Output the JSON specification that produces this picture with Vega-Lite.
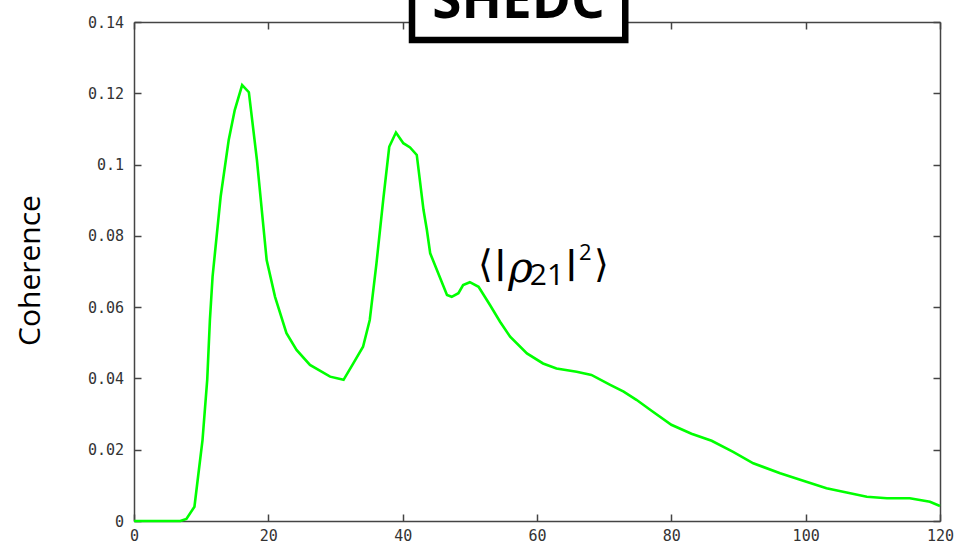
{
  "$schema": "https://vega.github.io/schema/vega-lite/v6.json",
  "width": 806,
  "height": 499,
  "autosize": {"type": "none"},
  "padding": {"left": 134, "top": 22, "right": 21, "bottom": 27},
  "background": "white",
  "config": {
    "view": {"stroke": null},
    "axis": {
      "domainColor": "#444444",
      "domainWidth": 1.5,
      "tickColor": "#444444",
      "tickWidth": 1.5,
      "tickSize": -7,
      "grid": false,
      "labelFont": "DejaVu Sans Mono",
      "labelFontSize": 15,
      "labelColor": "#333333"
    }
  },
  "datasets": {
    "curve": [
      {"x": 0, "y": 0}, {"x": 2, "y": 0}, {"x": 4, "y": 0}, {"x": 6, "y": 0}, {"x": 6.9, "y": 0},
      {"x": 7.8, "y": 0.0006}, {"x": 9.0, "y": 0.004}, {"x": 9.6, "y": 0.0134}, {"x": 10.2, "y": 0.0227},
      {"x": 10.9, "y": 0.0396}, {"x": 11.3, "y": 0.0564}, {"x": 11.7, "y": 0.0686}, {"x": 12.9, "y": 0.091},
      {"x": 14.1, "y": 0.1069}, {"x": 15.0, "y": 0.1153}, {"x": 16.1, "y": 0.1223}, {"x": 17.1, "y": 0.1203},
      {"x": 18.3, "y": 0.1013}, {"x": 19.75, "y": 0.0732}, {"x": 21.0, "y": 0.0629}, {"x": 22.7, "y": 0.0527},
      {"x": 24.2, "y": 0.048}, {"x": 26.2, "y": 0.0438}, {"x": 29.2, "y": 0.0405}, {"x": 31.2, "y": 0.0396},
      {"x": 32.65, "y": 0.0442}, {"x": 34.1, "y": 0.0489}, {"x": 35.1, "y": 0.0564}, {"x": 36.1, "y": 0.0723},
      {"x": 37.1, "y": 0.09}, {"x": 38.0, "y": 0.105}, {"x": 39.0, "y": 0.109}, {"x": 40.1, "y": 0.106},
      {"x": 41.1, "y": 0.1048}, {"x": 42.1, "y": 0.1027}, {"x": 43.1, "y": 0.0873}, {"x": 43.6, "y": 0.0817},
      {"x": 44.1, "y": 0.0751}, {"x": 45.1, "y": 0.0704}, {"x": 46.6, "y": 0.0634}, {"x": 47.3, "y": 0.0629},
      {"x": 48.3, "y": 0.0639}, {"x": 49.0, "y": 0.0662}, {"x": 50.0, "y": 0.067}, {"x": 51.3, "y": 0.0657},
      {"x": 53.0, "y": 0.0606}, {"x": 54.5, "y": 0.0559}, {"x": 56.0, "y": 0.0517}, {"x": 58.5, "y": 0.047},
      {"x": 60.9, "y": 0.0442}, {"x": 62.9, "y": 0.0428}, {"x": 65.9, "y": 0.0419}, {"x": 68.1, "y": 0.041},
      {"x": 70.9, "y": 0.0382}, {"x": 72.9, "y": 0.0363}, {"x": 74.8, "y": 0.034}, {"x": 77, "y": 0.031},
      {"x": 80, "y": 0.027}, {"x": 83, "y": 0.0245}, {"x": 86, "y": 0.0225}, {"x": 89.2, "y": 0.0194},
      {"x": 92.2, "y": 0.0162}, {"x": 96.2, "y": 0.0134}, {"x": 100.1, "y": 0.011}, {"x": 103.1, "y": 0.0092},
      {"x": 106.1, "y": 0.008}, {"x": 109.1, "y": 0.0068}, {"x": 112.1, "y": 0.0064}, {"x": 115.5, "y": 0.0064},
      {"x": 118.5, "y": 0.0054}, {"x": 120, "y": 0.0042}
    ],
    "box": [{"x1": 41.39, "x2": 73.14, "y1": 0.13496, "y2": 0.16}],
    "title": [{"x": 57.25, "y": 0.14105, "t": "SHEDC"}],
    "brackets": [
      {"x": 52.3, "y": 0.06846, "t": "⟨"},
      {"x": 69.6, "y": 0.06846, "t": "⟩"}
    ],
    "bars": [
      {"x": 54.56, "y": 0.06958, "t": "|"},
      {"x": 65.1, "y": 0.06958, "t": "|"}
    ],
    "rho": [{"x": 57.54, "y": 0.06706, "t": "ρ"}],
    "sub": [{"x": 61.49, "y": 0.06622, "t": "21"}],
    "sup": [{"x": 67.2, "y": 0.07323, "t": "2"}]
  },
  "resolve": {"axis": {"x": "independent", "y": "independent"}},
  "layer": [
    {
      "data": {"name": "curve"},
      "mark": {"type": "line", "color": "#00ff00", "strokeWidth": 2.6},
      "encoding": {
        "x": {"field": "x", "type": "quantitative",
              "scale": {"domain": [0, 120], "nice": false, "zero": false},
              "axis": {"orient": "bottom", "values": [0, 20, 40, 60, 80, 100, 120], "labelPadding": 14, "title": null, "labelFlush": false}},
        "y": {"field": "y", "type": "quantitative",
              "scale": {"domain": [0, 0.14], "nice": false},
              "axis": {"orient": "left", "values": [0, 0.02, 0.04, 0.06, 0.08, 0.1, 0.12, 0.14], "format": "~g", "labelPadding": 17.5,
                       "title": "Coherence", "titleFont": "Open Sans", "titleFontSize": 30, "titleFontWeight": "normal", "titleColor": "black",
                       "titleX": -104, "titleY": 248, "titleAngle": 270, "titleAlign": "center", "titleBaseline": "middle"}}
      }
    },
    {
      "data": {"name": "curve"},
      "mark": {"type": "line", "opacity": 0},
      "encoding": {
        "x": {"field": "x", "type": "quantitative",
              "axis": {"orient": "top", "values": [0, 20, 40, 60, 80, 100, 120], "labels": false, "title": null}},
        "y": {"field": "y", "type": "quantitative",
              "axis": {"orient": "right", "values": [0, 0.02, 0.04, 0.06, 0.08, 0.1, 0.12, 0.14], "labels": false, "title": null}}
      }
    },
    {
      "data": {"name": "box"},
      "mark": {"type": "rect", "fill": "white", "stroke": "black", "strokeWidth": 6.5},
      "encoding": {
        "x": {"field": "x1", "type": "quantitative", "axis": null},
        "x2": {"field": "x2"},
        "y": {"field": "y1", "type": "quantitative", "axis": null},
        "y2": {"field": "y2"}
      }
    },
    {
      "data": {"name": "title"},
      "mark": {"type": "text", "font": "Open Sans", "fontWeight": "bold", "fontSize": 53, "align": "center", "baseline": "alphabetic", "color": "black"},
      "encoding": {
        "x": {"field": "x", "type": "quantitative", "axis": null},
        "y": {"field": "y", "type": "quantitative", "axis": null},
        "text": {"field": "t"}
      }
    },
    {
      "data": {"name": "brackets"},
      "mark": {"type": "text", "font": "DejaVu Sans", "fontSize": 38, "align": "center", "baseline": "alphabetic", "color": "black"},
      "encoding": {
        "x": {"field": "x", "type": "quantitative", "axis": null},
        "y": {"field": "y", "type": "quantitative", "axis": null},
        "text": {"field": "t"}
      }
    },
    {
      "data": {"name": "bars"},
      "mark": {"type": "text", "font": "DejaVu Sans", "fontWeight": "bold", "fontSize": 32, "align": "center", "baseline": "alphabetic", "color": "black"},
      "encoding": {
        "x": {"field": "x", "type": "quantitative", "axis": null},
        "y": {"field": "y", "type": "quantitative", "axis": null},
        "text": {"field": "t"}
      }
    },
    {
      "data": {"name": "rho"},
      "mark": {"type": "text", "font": "DejaVu Serif", "fontStyle": "italic", "fontSize": 42, "align": "center", "baseline": "alphabetic", "color": "black"},
      "encoding": {
        "x": {"field": "x", "type": "quantitative", "axis": null},
        "y": {"field": "y", "type": "quantitative", "axis": null},
        "text": {"field": "t"}
      }
    },
    {
      "data": {"name": "sub"},
      "mark": {"type": "text", "font": "Open Sans", "fontSize": 30, "align": "center", "baseline": "alphabetic", "color": "black"},
      "encoding": {
        "x": {"field": "x", "type": "quantitative", "axis": null},
        "y": {"field": "y", "type": "quantitative", "axis": null},
        "text": {"field": "t"}
      }
    },
    {
      "data": {"name": "sup"},
      "mark": {"type": "text", "font": "Open Sans", "fontSize": 22, "align": "center", "baseline": "alphabetic", "color": "black"},
      "encoding": {
        "x": {"field": "x", "type": "quantitative", "axis": null},
        "y": {"field": "y", "type": "quantitative", "axis": null},
        "text": {"field": "t"}
      }
    }
  ]
}
